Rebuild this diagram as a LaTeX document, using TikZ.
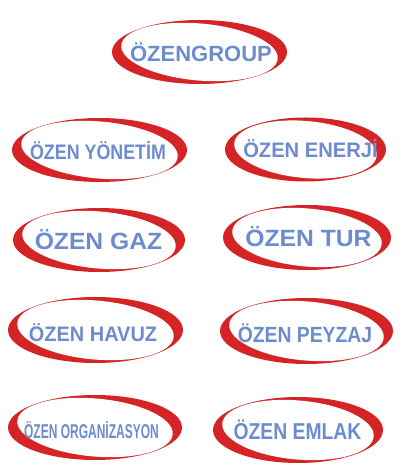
\documentclass[tikz,border=0pt]{standalone}
\usepackage{fontspec}
\setmainfont{Liberation Sans}
\definecolor{ringred}{RGB}{212,36,38}
\definecolor{txtblue}{RGB}{108,140,206}
\tikzset{
  pics/logo/.style 2 args={code={
    \fill[ringred] (0,0) ellipse [x radius=#1pt, y radius=#2pt];
    \fill[white, rotate=-5] (0,0) ellipse [x radius=#1pt-9pt, y radius=#2pt-3.5pt];
  }},
  lbl/.style={anchor=base, inner sep=0pt, text=txtblue, font=\bfseries},
}
\newcommand\fs[1]{\fontsize{#1}{#1}\selectfont}
\begin{document}
\begin{tikzpicture}[x=1pt,y=1pt]
\useasboundingbox (0,0) rectangle (406,476);
\pic at (199.5,424) {logo={87.5}{32}};
\pic at (99.5,326) {logo={87.5}{32}};
\pic at (305.5,326.5) {logo={80.5}{32}};
\pic at (99,236) {logo={86}{32}};
\pic at (307,238.5) {logo={84}{32.5}};
\pic at (95.5,146) {logo={87.5}{33}};
\pic at (306.5,145) {logo={86.5}{33}};
\pic at (95,48.5) {logo={87}{32.5}};
\pic at (298,46) {logo={85}{33}};
\node[lbl] (grp) at (201,414) {\fs{22}\scalebox{1.0}[1]{ÖZENGROUP}};
\node[lbl] (yon) at (98,316) {\fs{21}\scalebox{0.85}[1]{ÖZEN YÖNETİM}};
\node[lbl] (ene) at (310.5,318) {\fs{21}\scalebox{0.96}[1]{ÖZEN ENERJİ}};
\node[lbl] (gaz) at (98.5,226) {\fs{23.5}\scalebox{1.05}[1]{ÖZEN GAZ}};
\node[lbl] (tur) at (308.5,229) {\fs{23.5}\scalebox{1.05}[1]{ÖZEN TUR}};
\node[lbl] (hav) at (93,134) {\fs{21}\scalebox{0.95}[1]{ÖZEN HAVUZ}};
\node[lbl] (pey) at (305,133) {\fs{22}\scalebox{0.88}[1]{ÖZEN PEYZAJ}};
\node[lbl] (org) at (91.5,37) {\fs{20}\scalebox{0.6}[1]{ÖZEN ORGANİZASYON}};
\node[lbl] (eml) at (297.5,36) {\fs{23}\scalebox{0.84}[1]{ÖZEN EMLAK}};
\end{tikzpicture}
\end{document}
